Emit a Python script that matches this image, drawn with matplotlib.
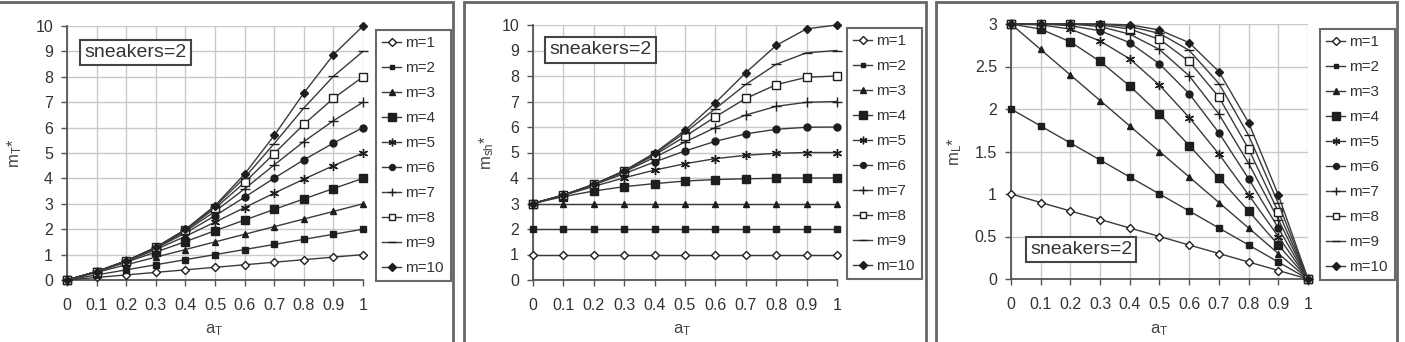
import matplotlib
matplotlib.use('Agg')
import matplotlib.pyplot as plt
from matplotlib.patches import Rectangle
from matplotlib.ticker import FuncFormatter

plt.rcParams['font.family'] = ['Liberation Sans', 'DejaVu Sans']
plt.rcParams['mathtext.default'] = 'regular'

# --- DATA ---
a_T = [0, 0.1, 0.2, 0.3, 0.4, 0.5, 0.6, 0.7, 0.8, 0.9, 1]
series_labels = ['m=1', 'm=2', 'm=3', 'm=4', 'm=5', 'm=6', 'm=7', 'm=8', 'm=9', 'm=10']

# m_T* (left panel)
m_T_star = [
    [0, 0.1, 0.2, 0.3, 0.4, 0.5, 0.6, 0.7, 0.8, 0.9, 1.0],
    [0, 0.2, 0.4, 0.6, 0.8, 1.0, 1.2, 1.4, 1.6, 1.8, 2.0],
    [0, 0.3, 0.6, 0.9, 1.2, 1.5, 1.8, 2.1, 2.4, 2.7, 3.0],
    [0, 0.33, 0.70, 1.10, 1.51, 1.94, 2.36, 2.78, 3.19, 3.60, 4.0],
    [0, 0.33, 0.73, 1.20, 1.72, 2.28, 2.85, 3.42, 3.97, 4.50, 5.0],
    [0, 0.33, 0.75, 1.25, 1.85, 2.53, 3.26, 4.01, 4.73, 5.39, 6.0],
    [0, 0.33, 0.75, 1.27, 1.92, 2.70, 3.59, 4.53, 5.45, 6.27, 7.0],
    [0, 0.33, 0.75, 1.28, 1.96, 2.82, 3.84, 4.98, 6.13, 7.15, 8.0],
    [0, 0.33, 0.75, 1.28, 1.98, 2.89, 4.03, 5.37, 6.77, 8.02, 9.0],
    [0, 0.33, 0.75, 1.29, 1.99, 2.93, 4.17, 5.69, 7.36, 8.87, 10.0],
]

# m_sh* (middle panel)
m_sh_star = [
    [1, 1, 1, 1, 1, 1, 1, 1, 1, 1, 1],
    [2, 2, 2, 2, 2, 2, 2, 2, 2, 2, 2],
    [3, 3, 3, 3, 3, 3, 3, 3, 3, 3, 3],
    [3, 3.27, 3.49, 3.66, 3.78, 3.88, 3.94, 3.97, 3.99, 4.0, 4],
    [3, 3.32, 3.67, 4.01, 4.31, 4.56, 4.76, 4.89, 4.97, 5.0, 5],
    [3, 3.33, 3.73, 4.17, 4.63, 5.06, 5.44, 5.73, 5.91, 5.99, 6],
    [3, 3.33, 3.74, 4.24, 4.81, 5.41, 5.98, 6.47, 6.81, 6.97, 7],
    [3, 3.33, 3.75, 4.27, 4.90, 5.63, 6.40, 7.12, 7.66, 7.95, 8],
    [3, 3.33, 3.75, 4.28, 4.95, 5.78, 6.72, 7.67, 8.46, 8.91, 9],
    [3, 3.33, 3.75, 4.28, 4.98, 5.87, 6.95, 8.13, 9.20, 9.85, 10],
]

# m_L* (right panel)
m_L_star = [
    [1.0, 0.9, 0.8, 0.7, 0.6, 0.5, 0.4, 0.3, 0.2, 0.1, 0],
    [2.0, 1.8, 1.6, 1.4, 1.2, 1.0, 0.8, 0.6, 0.4, 0.2, 0],
    [3.0, 2.7, 2.4, 2.1, 1.8, 1.5, 1.2, 0.9, 0.6, 0.3, 0],
    [3, 2.94, 2.79, 2.56, 2.27, 1.94, 1.57, 1.19, 0.80, 0.40, 0],
    [3, 2.99, 2.94, 2.80, 2.59, 2.28, 1.90, 1.47, 0.99, 0.50, 0],
    [3, 3.00, 2.98, 2.92, 2.78, 2.53, 2.18, 1.72, 1.18, 0.60, 0],
    [3, 3.00, 3.00, 2.97, 2.88, 2.70, 2.39, 1.94, 1.36, 0.70, 0],
    [3, 3.00, 3.00, 2.99, 2.94, 2.82, 2.56, 2.14, 1.53, 0.79, 0],
    [3, 3.00, 3.00, 3.00, 2.97, 2.89, 2.69, 2.30, 1.69, 0.89, 0],
    [3, 3.00, 3.00, 3.00, 2.99, 2.93, 2.78, 2.44, 1.84, 0.99, 0],
]

# --- STYLE ---
W, H = 1405, 342
LINE = '#3a3a3a'
MK = '#1e1e1e'
GRID = '#c8c8c8'
AX = '#555555'

# marker, size, face colour
styles = [
    ('D', 4.5, 'white'),
    ('s', 4.0, MK),
    ('^', 5.0, MK),
    ('s', 6.0, MK),
    ((6, 2, 0), 6.5, MK),
    ('o', 5.0, MK),
    ('+', 6.5, MK),
    ('s', 5.5, 'white'),
    ('_', 7.0, MK),
    ('D', 4.5, MK),
]

fig = plt.figure(figsize=(W / 100, H / 100), dpi=100)


def px_axes(l, t, r, b):
    return fig.add_axes([l / W, 1 - b / H, (r - l) / W, (b - t) / H])


def draw_panel(box, data, ymax, ystep, ylabel, ylab_x, xlab_x, legend_box, note_xy):
    ax = px_axes(*box)
    for i, ys in enumerate(data):
        mk, ms, fc = styles[i]
        ax.plot(a_T, ys, color=LINE, lw=1.0, marker=mk, markersize=ms,
                markerfacecolor=fc, markeredgecolor=MK, markeredgewidth=1.0,
                label=series_labels[i], clip_on=False, zorder=3 + i * 0.01)
    ax.set_xlim(0, 1)
    ax.set_ylim(0, ymax)
    ax.set_xticks(a_T)
    yt = [k * ystep for k in range(int(round(ymax / ystep)) + 1)]
    ax.set_yticks(yt)
    fmt = FuncFormatter(lambda v, p: '%g' % round(v, 2))
    ax.xaxis.set_major_formatter(fmt)
    ax.yaxis.set_major_formatter(fmt)
    ax.grid(True, color=GRID, lw=1.0)
    ax.set_axisbelow(True)
    for s in ['top', 'right']:
        ax.spines[s].set_visible(False)
    for s in ['left', 'bottom']:
        ax.spines[s].set_color(AX)
        ax.spines[s].set_linewidth(1.3)
    ax.tick_params(direction='out', length=4, width=1.0, color=AX,
                   labelsize=11.5, labelcolor='#333333')
    ax.tick_params(axis='x', pad=9)
    ax.tick_params(axis='y', pad=6)

    fig.text(ylab_x / W, 1 - (box[1] + box[3]) / 2 / H, ylabel, rotation=90,
             ha='center', va='center', fontsize=12, color='#444444')
    fig.text(xlab_x / W, 1 - 330 / H, r'$a_T$', ha='center', va='center',
             fontsize=12, color='#444444')

    lx0, ly0, lx1, ly1 = legend_box
    leg = ax.legend(loc='upper left',
                    bbox_to_anchor=(lx0 / W, 1 - ly1 / H, (lx1 - lx0) / W, (ly1 - ly0) / H),
                    bbox_transform=fig.transFigure, mode='expand',
                    fancybox=False, frameon=True, fontsize=11, markerscale=0.85,
                    handlelength=1.25, handletextpad=0.25, labelspacing=0.72,
                    borderpad=0.4, borderaxespad=0)
    leg.get_frame().set_edgecolor('#444444')
    leg.get_frame().set_linewidth(1.5)
    for t in leg.get_texts():
        t.set_color('#333333')

    ax.text(note_xy[0], note_xy[1], 'sneakers=2', transform=ax.transAxes,
            ha='center', va='center', fontsize=14, color='#333333', zorder=10,
            bbox=dict(boxstyle='square,pad=0.22', facecolor='white',
                      edgecolor='#444444', linewidth=1.5))
    return ax


draw_panel((67, 26, 363, 280), m_T_star, 10, 1, r'$m_T$*', 15, 214,
           (376, 30, 451, 275), (0.231, 0.896))
draw_panel((533, 25, 837, 280), m_sh_star, 10, 1, r'$m_{sh}$*', 487, 682,
           (847, 28, 922, 275), (0.222, 0.902))
draw_panel((1011, 24, 1308, 279), m_L_star, 3, 0.5, r'$m_L$*', 955, 1159,
           (1320, 29, 1395, 274), (0.236, 0.116))

# panel frames (open at the bottom, like the cropped original)
for x0, x1 in [(-5, 453), (464, 926), (936, 1397)]:
    fig.add_artist(Rectangle((x0 / W, -0.05), (x1 - x0) / W, 1.05 - 2 / H,
                             transform=fig.transFigure, fill=False,
                             edgecolor='#666666', linewidth=2.0))

fig.savefig('out.png', dpi=100)
